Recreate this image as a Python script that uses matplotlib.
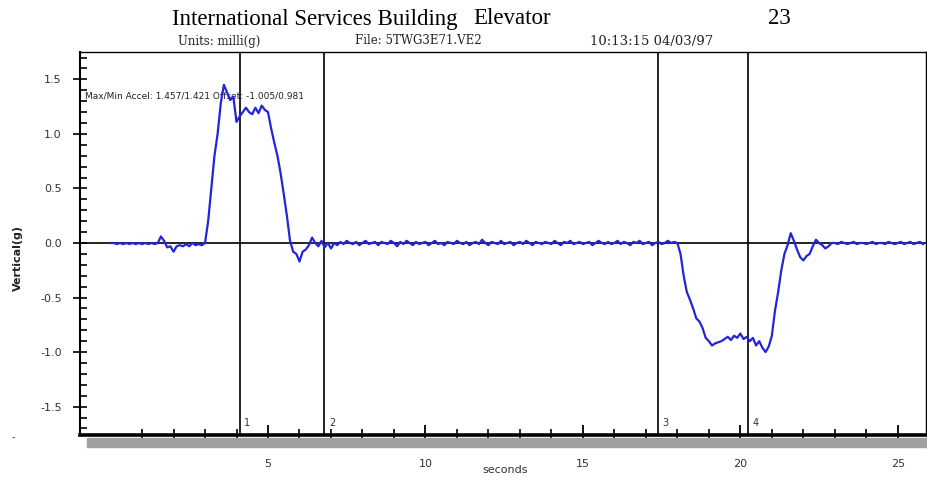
import numpy as np
import matplotlib
matplotlib.use('Agg')
from matplotlib import pyplot as plt
from matplotlib.patches import Rectangle

# vertical acceleration, one value every 0.1 s (rows = one second)
sample_step = 0.1
accel = [
    0.0, 0.0, -0.01, 0.0, -0.01, 0.0, -0.01, 0.0, -0.01, 0.0,          # 0
    -0.01, 0.0, -0.01, 0.0, -0.01, 0.0, 0.06, 0.02, -0.04, -0.03,      # 1
    -0.08, -0.03, -0.02, -0.03, -0.01, -0.03, 0.0, -0.02, -0.01, -0.02,  # 2
    0.0, 0.2, 0.5, 0.8, 1.0, 1.28, 1.45, 1.38, 1.31, 1.34,            # 3
    1.11, 1.16, 1.2, 1.24, 1.2, 1.18, 1.24, 1.19, 1.26, 1.22,          # 4
    1.2, 1.05, 0.92, 0.8, 0.64, 0.45, 0.25, 0.02, -0.08, -0.1,        # 5
    -0.17, -0.08, -0.06, -0.02, 0.05, 0.0, -0.03, 0.02, -0.04, 0.0,    # 6
    -0.05, 0.0, -0.02, 0.01, -0.01, 0.02, 0.0, -0.01, 0.01, -0.02,     # 7
    0.0, 0.02, -0.01, 0.0, 0.01, -0.02, 0.01, 0.0, -0.01, 0.02,        # 8
    0.0, -0.03, 0.01, -0.01, 0.02, 0.0, -0.02, 0.01, -0.01, 0.0,       # 9
    0.01, -0.02, 0.0, 0.02, -0.01, 0.0, -0.02, 0.01, 0.0, -0.01,       # 10
    0.02, 0.0, -0.01, 0.01, -0.02, 0.0, 0.01, -0.01, 0.03, 0.0,        # 11
    -0.02, 0.01, 0.0, -0.01, 0.02, -0.01, 0.0, 0.01, -0.02, 0.0,       # 12
    0.01, -0.01, 0.02, 0.0, -0.02, 0.01, 0.0, -0.01, 0.01, 0.0,        # 13
    -0.01, 0.02, 0.0, -0.02, 0.01, 0.0, 0.02, -0.01, 0.0, 0.01,        # 14
    -0.01, 0.0, 0.01, -0.02, 0.0, 0.02, 0.0, -0.01, 0.01, -0.01,       # 15
    0.0, 0.02, -0.01, 0.01, 0.0, -0.02, 0.01, 0.0, 0.02, -0.01,        # 16
    0.0, 0.01, -0.02, 0.0, 0.01, -0.01, 0.0, 0.02, 0.0, 0.01,          # 17
    0.0, -0.1, -0.3, -0.45, -0.52, -0.6, -0.69, -0.72, -0.78, -0.87,   # 18
    -0.9, -0.94, -0.92, -0.91, -0.9, -0.88, -0.86, -0.89, -0.85, -0.87,  # 19
    -0.83, -0.88, -0.86, -0.9, -0.87, -0.94, -0.9, -0.96, -1.0, -0.95,   # 20
    -0.85, -0.62, -0.45, -0.25, -0.1, -0.02, 0.09, 0.02, -0.06, -0.13,   # 21
    -0.16, -0.12, -0.1, -0.03, 0.03, 0.0, -0.02, -0.05, -0.03, 0.0,     # 22
    0.0, -0.01, 0.01, 0.0, -0.01, 0.0, 0.01, -0.01, 0.0, 0.0,           # 23
    -0.01, 0.0, 0.01, -0.01, 0.0, 0.0, -0.01, 0.01, 0.0, -0.01,         # 24
    0.0, 0.01, -0.01, 0.0, 0.01, -0.01, 0.0, 0.01, -0.01,               # 25
]
times = np.arange(len(accel)) * sample_step

cursor_times = [4.1, 6.78, 17.38, 20.24]
cursor_labels = ['1', '2', '3', '4']
major_xticks = [5, 10, 15, 20, 25]
minor_xticks = [t for t in range(1, 26) if t % 5 != 0]

fig = plt.figure(figsize=(9.28, 4.78), dpi=100)
ax = fig.add_axes([0.0862, 0.090, 0.9118, 0.801])

ax.plot(times, accel, color='#2424d8', lw=1.6, zorder=3)
ax.axhline(0, color='black', lw=1.2, zorder=2)
for ct, lab in zip(cursor_times, cursor_labels):
    ax.axvline(ct, color='black', lw=1.2, zorder=2)
    ax.text(ct + 0.15, -1.65, lab, fontsize=7, color='#333333', va='center', ha='left')

ax.set_xlim(-0.97, 25.9)
ax.set_ylim(-1.76, 1.75)

ax.set_xticks(major_xticks)
ax.set_xticks(minor_xticks, minor=True)
ax.set_yticks([-1.5, -1.0, -0.5, 0.0, 0.5, 1.0, 1.5])
ax.set_yticks(np.arange(-17, 18) / 10.0, minor=True)
ax.set_yticklabels(['-1.5', '-1.0', '-0.5', '0.0', '0.5', '1.0', '1.5'])
ax.tick_params(axis='x', which='major', direction='inout', length=14, width=1.3,
               labelsize=8, labelcolor='#333333', pad=10)
ax.tick_params(axis='x', which='minor', direction='inout', length=8, width=1.2)
ax.tick_params(axis='y', which='major', direction='inout', length=10, width=1.2,
               labelsize=8, labelcolor='#333333', pad=8)
ax.tick_params(axis='y', which='minor', direction='in', length=5, width=1.2)

ax.spines['bottom'].set_linewidth(2.6)
ax.spines['left'].set_linewidth(1.5)
ax.spines['top'].set_linewidth(1.0)
ax.spines['right'].set_linewidth(1.0)

# grey band under the time axis
fig.patches.append(Rectangle((87 / 928, 1 - 447 / 478), 1 - 87 / 928, 9 / 478,
                             transform=fig.transFigure, color='#a0a0a0', zorder=0))

ax.text(-0.81, 1.35, 'Max/Min Accel: 1.457/1.421 Offset: -1.005/0.981', fontsize=6.5,
        color='#222222', va='center', ha='left', zorder=1)

fig.text(18 / 928, 1 - 258 / 478, 'Vertical(g)', rotation=90, fontsize=8,
         ha='center', va='center', color='#222222', fontweight='bold')
fig.text(505 / 928, 1 - 470 / 478, 'seconds', fontsize=8, ha='center', va='center',
         color='#333333')
fig.text(13 / 928, 1 - 437 / 478, '-', fontsize=7, ha='center', va='center', color='#444444')

serif = 'Liberation Serif'
fig.text(172 / 928, 1 - 19 / 478, 'International Services Building', family=serif,
         fontsize=16.5, ha='left', va='center')
fig.text(473 / 928, 1 - 19 / 478, 'Elevator', family=serif, fontsize=16.5, ha='left', va='center')
fig.text(768 / 928, 1 - 19 / 478, '23', family=serif, fontsize=16.5, ha='left', va='center')
sub = 'DejaVu Serif'
fig.text(178 / 928, 1 - 41 / 478, 'Units: milli(g)', family=sub, fontsize=8.5,
         ha='left', va='center', color='#222222')
fig.text(355 / 928, 1 - 41 / 478, 'File: 5TWG3E71.VE2', family=sub, fontsize=8.5,
         ha='left', va='center', color='#222222')
fig.text(590 / 928, 1 - 41 / 478, '10:13:15 04/03/97', family=sub, fontsize=9.5,
         ha='left', va='center', color='#222222')

fig.savefig('out.png', dpi=100)
